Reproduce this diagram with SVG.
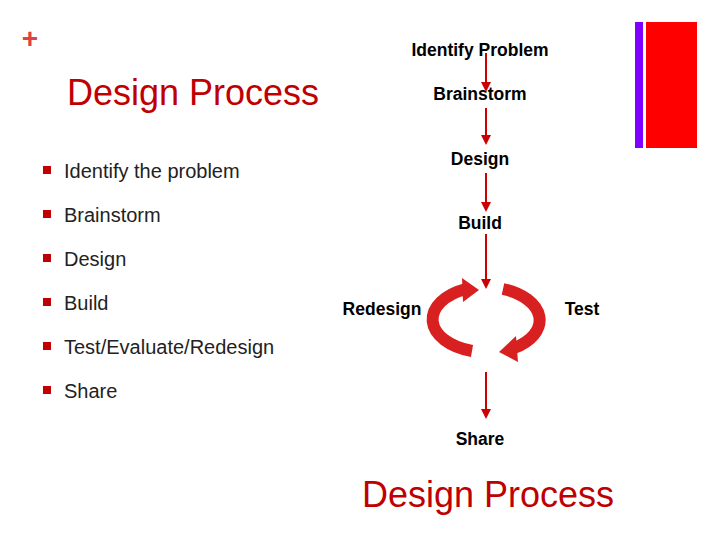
<svg xmlns="http://www.w3.org/2000/svg" width="720" height="540" viewBox="0 0 720 540">
<style>
.b{font-family:"Liberation Sans",Arial,sans-serif;font-size:17.5px;font-weight:bold;fill:#000;text-anchor:middle}
.l{font-family:"Liberation Sans",Arial,sans-serif;font-size:20px;fill:#222}
.t{font-family:"Liberation Sans",Arial,sans-serif;font-size:36px;fill:#c00000}
.c{stroke:#c00;stroke-width:2;fill:none;marker-end:url(#ah)}
.ring{fill:none;stroke:#d92020;stroke-width:12}
.sq{fill:#c00000}
</style>
<defs>
<marker id="ah" markerWidth="10" markerHeight="10" refX="8" refY="5" orient="auto" markerUnits="userSpaceOnUse"><path d="M0,0L10,5L0,10z" fill="#c00"/></marker>
</defs>
<rect width="720" height="540" fill="#fff"/>
<text x="30" y="48" font-family="Liberation Sans,Arial,sans-serif" font-size="28" font-weight="bold" fill="#e04040" text-anchor="middle">+</text>
<rect x="635" y="22" width="8" height="126" fill="#7f00ff"/>
<rect x="646" y="22" width="51" height="126" fill="#ff0000"/>
<text class="t" x="67" y="105">Design Process</text>
<text class="t" x="362" y="507">Design Process</text>
<g id="bullets">
<rect class="sq" x="43" y="166" width="8" height="8"/><text class="l" x="64" y="178">Identify the problem</text>
<rect class="sq" x="43" y="210" width="8" height="8"/><text class="l" x="64" y="222">Brainstorm</text>
<rect class="sq" x="43" y="254" width="8" height="8"/><text class="l" x="64" y="266">Design</text>
<rect class="sq" x="43" y="298" width="8" height="8"/><text class="l" x="64" y="310">Build</text>
<rect class="sq" x="43" y="342" width="8" height="8"/><text class="l" x="64" y="354">Test/Evaluate/Redesign</text>
<rect class="sq" x="43" y="386" width="8" height="8"/><text class="l" x="64" y="398">Share</text>
</g>
<g id="n1"><text class="b" x="480" y="56">Identify Problem</text></g>
<g id="n2"><text class="b" x="480" y="100">Brainstorm</text></g>
<g id="n3"><text class="b" x="480" y="165">Design</text></g>
<g id="n4"><text class="b" x="480" y="229">Build</text></g>
<g id="n5"><text class="b" x="382" y="315">Redesign</text></g>
<g id="n6"><text class="b" x="582" y="315">Test</text></g>
<g id="n7"><text class="b" x="480" y="445">Share</text></g>
<g id="cycle">
<path class="ring" d="M466,289 A55,33 0 0 0 472,351"/>
<polygon points="462,278 479,290 463,302" fill="#d92020"/>
<path class="ring" d="M503,289 A55,33 0 0 1 514,348"/>
<polygon points="516,336 499,352 518,362" fill="#d92020"/>
</g>
<g id="connectors">
<line class="c" x1="486" y1="53" x2="486" y2="90"/>
<line class="c" x1="486" y1="108" x2="486" y2="143"/>
<line class="c" x1="486" y1="173" x2="486" y2="210"/>
<line class="c" x1="486" y1="234" x2="486" y2="287"/>
<line class="c" x1="486" y1="372" x2="486" y2="417"/>
</g>
</svg>
